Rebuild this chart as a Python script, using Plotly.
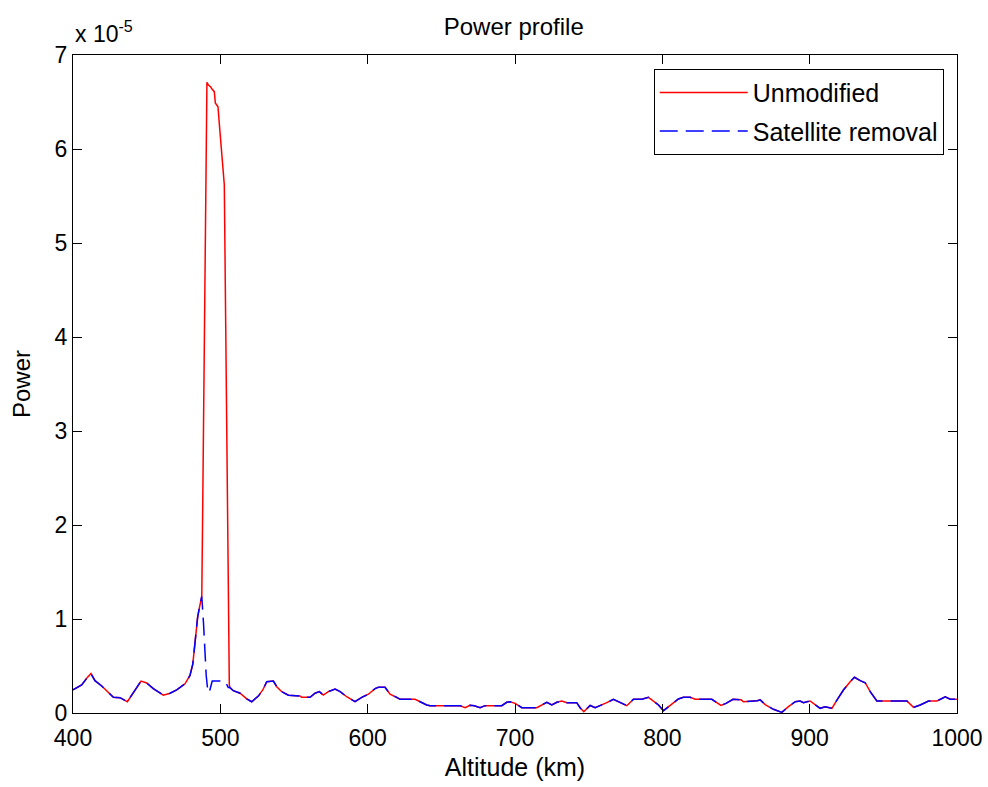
import plotly.graph_objects as go

# Values in units of 1e-5 (axis shows "x 10^-5")
base_left_alt = [400, 405.9, 409.3, 412.2, 414.9, 419.5, 427.4, 431.9, 436.9, 439.8,
                 443.2, 446.2, 450, 454.5, 461.3, 465.9, 470.4, 476, 479.4, 481.3,
                 482.5, 483.5, 484.6, 485.9, 487.4]
base_left_pow = [0.245, 0.298, 0.369, 0.42, 0.344, 0.287, 0.167, 0.163, 0.12, 0.19,
                 0.28, 0.34, 0.32, 0.26, 0.19, 0.21, 0.245, 0.31, 0.40, 0.52,
                 0.70, 0.88, 1.02, 1.13, 1.24]

unmod_peak_alt = [488.0, 489.2, 490.3, 490.9, 491.9, 493.5, 494.2, 495.9, 496.6, 498.4,
                  499.3, 500.5, 501.6, 502.7, 503.6, 504.5, 505.3, 506.1]
unmod_peak_pow = [2.12, 3.97, 5.80, 6.71, 6.68, 6.66, 6.64, 6.61, 6.49, 6.45,
                  6.27, 6.06, 5.84, 5.62, 4.2, 2.5, 1.56, 0.30]

sat_peak_alt = [488.6, 489.6, 490.4, 491.6, 492.5, 494.5, 503.2, 505.4]
sat_peak_pow = [0.95, 0.60, 0.40, 0.22, 0.22, 0.34, 0.34, 0.27]

base_right_alt = [506.5, 508.8, 513.4, 517.9, 521.3, 525.8, 528.8, 531.5, 536, 538.3,
                  541.7, 546.2, 554.1, 555.3, 560.9, 564.3, 567.2, 569.9, 573.3, 577.9,
                  581.3, 585.8, 591.4, 596, 600.5, 605, 607.3, 611.8, 615.2, 619.8,
                  622, 632.2, 635.6, 640.1, 642.4, 662.7, 666.1, 669.5, 672.4, 676.3,
                  679.7, 691, 694.4, 696.7, 700.1, 704.6, 714.8, 718.2, 721.6, 725,
                  728.4, 731.8, 735.2, 741.9, 744.2, 746.7, 751, 754.4, 757.8, 762.3,
                  766.8, 771.3, 775.9, 780.4, 786.1, 790.6, 793.5, 797.4, 800.8, 805.3,
                  810.9, 814.3, 818.9, 822.3, 833.6, 839.8, 843.2, 848, 853.5, 855,
                  864.5, 866.4, 869.8, 875.4, 881.1, 885.6, 890.2, 893.5, 895.8, 900.3,
                  903.7, 907.1, 910.5, 915.1, 918.5, 922.9, 927.5, 930.4, 934.3, 937.7,
                  941.1, 945.6, 966, 970.5, 975, 980.7, 986.4, 992, 995.4, 1000]
base_right_pow = [0.27, 0.237, 0.21, 0.15, 0.12, 0.18, 0.245, 0.333, 0.34, 0.28,
                  0.227, 0.19, 0.18, 0.167, 0.167, 0.21, 0.227, 0.19, 0.227, 0.255,
                  0.227, 0.173, 0.12, 0.167, 0.20, 0.26, 0.273, 0.273, 0.20, 0.167,
                  0.146, 0.146, 0.12, 0.085, 0.078, 0.078, 0.056, 0.082, 0.078, 0.056,
                  0.078, 0.078, 0.114, 0.12, 0.103, 0.056, 0.056, 0.085, 0.114, 0.085,
                  0.114, 0.128, 0.11, 0.11, 0.056, 0.014, 0.08, 0.056, 0.078, 0.11,
                  0.146, 0.11, 0.078, 0.146, 0.146, 0.167, 0.13, 0.085, 0.025, 0.08,
                  0.149, 0.167, 0.167, 0.146, 0.146, 0.08, 0.103, 0.146, 0.14, 0.12,
                  0.13, 0.14, 0.09, 0.039, 0.007, 0.067, 0.12, 0.128, 0.11, 0.128,
                  0.085, 0.05, 0.067, 0.05, 0.138, 0.245, 0.333, 0.38, 0.344, 0.322,
                  0.227, 0.128, 0.128, 0.06, 0.085, 0.128, 0.128, 0.173, 0.146, 0.146]

x_ticks = [400, 500, 600, 700, 800, 900, 1000]
y_ticks = [0, 1, 2, 3, 4, 5, 6, 7]

alt_unmod = base_left_alt + unmod_peak_alt + base_right_alt
pow_unmod = base_left_pow + unmod_peak_pow + base_right_pow
alt_sat = base_left_alt + sat_peak_alt + base_right_alt
pow_sat = base_left_pow + sat_peak_pow + base_right_pow

FONT = "Liberation Sans, Arial, sans-serif"

fig = go.Figure()
fig.add_trace(go.Scatter(x=alt_unmod, y=pow_unmod, mode="lines", name="Unmodified",
                         legendgroup="a",
                         line=dict(color="#ff0000", width=1.5)))
fig.add_trace(go.Scatter(x=alt_sat, y=pow_sat, mode="lines", name="Satellite removal",
                         legendgroup="b",
                         line=dict(color="#0000ff", width=1.5, dash="18px,8px")))

axis_common = dict(showline=True, linecolor="black", linewidth=1, mirror="ticks",
                   ticks="inside", ticklen=9, tickcolor="black", showgrid=False,
                   zeroline=False, automargin=False,
                   tickfont=dict(size=23, color="black", family=FONT))

fig.update_layout(
    width=988, height=787,
    margin=dict(l=73, r=31, t=55, b=74),
    paper_bgcolor="white", plot_bgcolor="white",
    font=dict(family=FONT, size=24, color="black"),
    title=dict(text="Power profile", x=0.52, xanchor="center", y=0.966, yanchor="middle",
               yref="container", font=dict(size=24, color="black", family=FONT)),
    xaxis=dict(range=[400, 1000], tickvals=x_ticks, ticklabelstandoff=4,
               title=dict(text="Altitude (km)", standoff=8, font=dict(size=25)), **axis_common),
    yaxis=dict(range=[0, 7], tickvals=y_ticks,
               title=dict(text="Power", standoff=17, font=dict(size=24)), **axis_common),
    legend=dict(x=0.985, y=0.979, xanchor="right", yanchor="top",
                bordercolor="black", borderwidth=1, bgcolor="white",
                font=dict(size=25, color="black", family=FONT),
                itemwidth=88, traceorder="grouped", tracegroupgap=3),
    annotations=[dict(text="x 10<sup>-5</sup>", xref="paper", yref="paper", x=0, y=1,
                      xanchor="left", yanchor="bottom", yshift=6, showarrow=False,
                      font=dict(size=23, color="black", family=FONT))],
)

fig.write_html("out.html")
